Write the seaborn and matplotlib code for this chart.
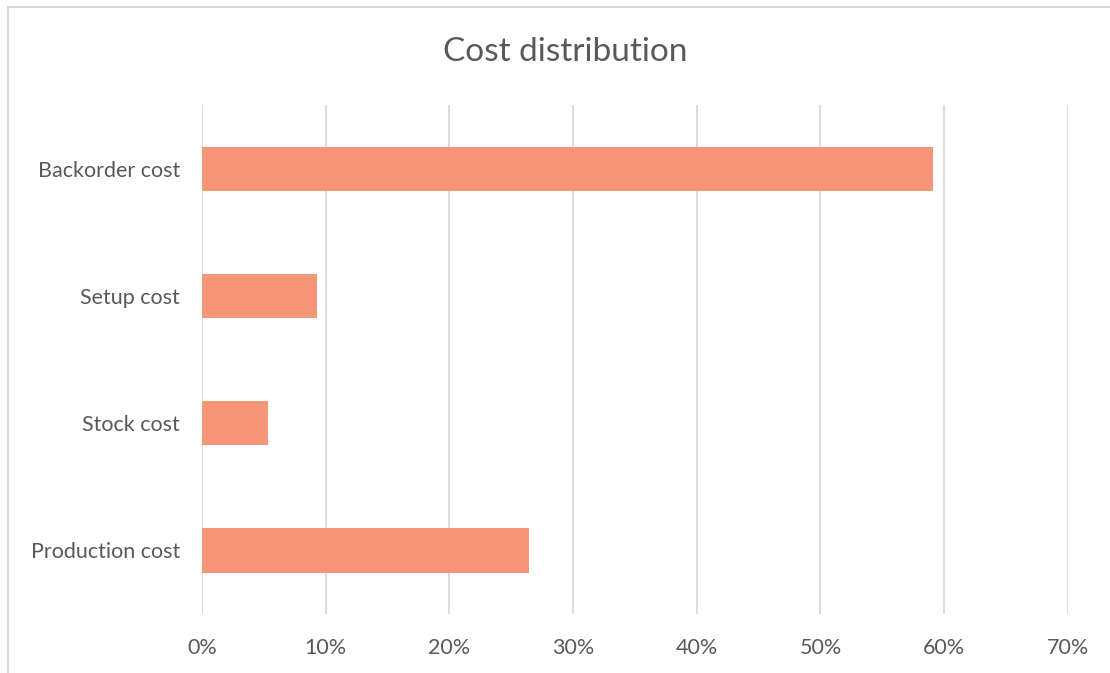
import matplotlib
matplotlib.use("Agg")
import matplotlib.pyplot as plt
import seaborn as sns
import pandas as pd
from matplotlib.lines import Line2D
from matplotlib.ticker import PercentFormatter, MultipleLocator

categories = ["Backorder cost", "Setup cost", "Stock cost", "Production cost"]
values = [0.591, 0.093, 0.053, 0.264]
title = "Cost distribution"

df = pd.DataFrame({"category": categories, "value": values})

sns.set_style("white")
plt.rcParams['font.family'] = ['Lato', 'DejaVu Sans']

fig = plt.figure(figsize=(11.1, 6.73), dpi=100)
ax = fig.add_axes([0.182, 0.0877, 0.780, 0.756])

sns.barplot(data=df, x="value", y="category", orient="h", color="#F49677",
            width=0.35, saturation=1, ax=ax, edgecolor="none")

ax.set_xlim(0, 0.70)
ax.xaxis.set_major_locator(MultipleLocator(0.10))
ax.xaxis.set_major_formatter(PercentFormatter(1.0, decimals=0))
ax.grid(axis="x", color="#D9D9D9", linewidth=1.3)
ax.set_axisbelow(True)
for s in ax.spines.values():
    s.set_visible(False)
ax.set_xlabel("")
ax.set_ylabel("")
ax.tick_params(axis="x", length=0, pad=17, labelsize=15.5, labelcolor="#595959")
ax.tick_params(axis="y", length=0, pad=16, labelsize=15.5, labelcolor="#595959")

fig.text(0.509, 0.922, title, ha="center", va="center", fontsize=24, color="#595959")

fig.lines.append(Line2D([0.0075, 1.0], [0.9896, 0.9896], transform=fig.transFigure,
                        color="#D9D9D9", linewidth=1.5))
fig.lines.append(Line2D([0.0075, 0.0075], [0.0, 0.9896], transform=fig.transFigure,
                        color="#D9D9D9", linewidth=1.5))

fig.savefig("out.png", dpi=100)
